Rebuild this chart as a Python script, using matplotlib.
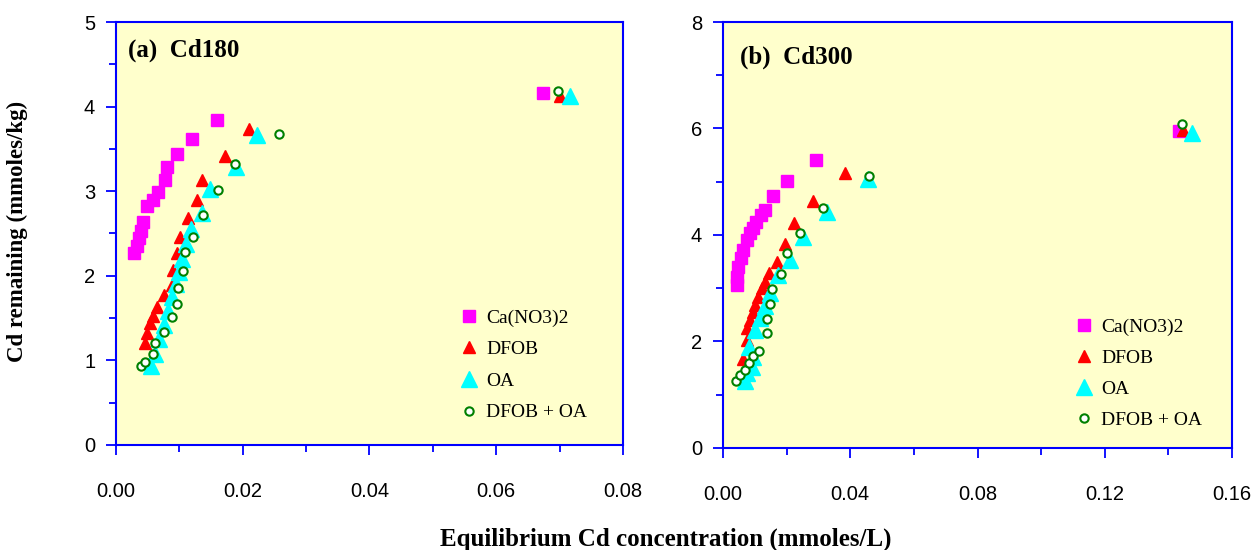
import matplotlib
matplotlib.use("Agg")
import matplotlib.pyplot as plt
from matplotlib import font_manager
from matplotlib.ticker import MultipleLocator, FormatStrFormatter

# ---------------- data ----------------
series_names = ["Ca(NO3)2", "DFOB", "OA", "DFOB + OA"]

# Panel (a) Cd180
a_ca_x = [0.0029, 0.0033, 0.0036, 0.0040, 0.0043, 0.0049, 0.0058, 0.0067, 0.0077, 0.0080, 0.0097, 0.0120, 0.0160, 0.0673]
a_ca_y = [2.27, 2.35, 2.45, 2.53, 2.64, 2.82, 2.90, 2.99, 3.13, 3.29, 3.44, 3.62, 3.84, 4.16]
a_dfob_x = [0.0046, 0.0049, 0.0053, 0.0058, 0.0064, 0.0075, 0.0089, 0.0090, 0.0097, 0.0101, 0.0114, 0.0128, 0.0135, 0.0172, 0.0210, 0.0701]
a_dfob_y = [1.20, 1.32, 1.44, 1.52, 1.63, 1.77, 1.89, 2.07, 2.27, 2.46, 2.68, 2.90, 3.13, 3.41, 3.74, 4.13]
a_oa_x = [0.0055, 0.0062, 0.0068, 0.0076, 0.0082, 0.0088, 0.0094, 0.0100, 0.0104, 0.0110, 0.0118, 0.0135, 0.0148, 0.0190, 0.0222, 0.0717]
a_oa_y = [0.93, 1.08, 1.25, 1.42, 1.58, 1.75, 1.90, 2.05, 2.20, 2.38, 2.55, 2.74, 3.03, 3.29, 3.66, 4.12]
a_mix_x = [0.0039, 0.0046, 0.0059, 0.0062, 0.0075, 0.0088, 0.0096, 0.0098, 0.0105, 0.0109, 0.0122, 0.0138, 0.0161, 0.0188, 0.0257, 0.0698]
a_mix_y = [0.93, 0.98, 1.08, 1.21, 1.34, 1.51, 1.67, 1.86, 2.06, 2.28, 2.46, 2.72, 3.01, 3.32, 3.68, 4.19]

# Panel (b) Cd300
b_ca_x = [0.0043, 0.0045, 0.0048, 0.0056, 0.0064, 0.0074, 0.0085, 0.0095, 0.0104, 0.0118, 0.0132, 0.0156, 0.0200, 0.0292, 0.1434]
b_ca_y = [3.06, 3.22, 3.40, 3.56, 3.72, 3.91, 4.03, 4.13, 4.25, 4.38, 4.47, 4.73, 5.01, 5.41, 5.96]
b_dfob_x = [0.0062, 0.0074, 0.0074, 0.0085, 0.0093, 0.0101, 0.0111, 0.0122, 0.0132, 0.0143, 0.0171, 0.0195, 0.0223, 0.0282, 0.0384, 0.1445]
b_dfob_y = [1.68, 2.03, 2.25, 2.40, 2.56, 2.69, 2.84, 3.00, 3.12, 3.28, 3.50, 3.83, 4.22, 4.64, 5.17, 5.98]
b_oa_x = [0.0069, 0.0074, 0.0090, 0.0095, 0.0080, 0.0101, 0.0116, 0.0132, 0.0148, 0.0174, 0.0211, 0.0252, 0.0326, 0.0457, 0.1473]
b_oa_y = [1.25, 1.40, 1.53, 1.71, 1.90, 2.22, 2.44, 2.66, 2.91, 3.25, 3.53, 3.97, 4.44, 5.05, 5.92]
b_mix_x = [0.0041, 0.0053, 0.0069, 0.0083, 0.0093, 0.0114, 0.0137, 0.0137, 0.0146, 0.0153, 0.0181, 0.0202, 0.0242, 0.0315, 0.0460, 0.1442]
b_mix_y = [1.25, 1.37, 1.46, 1.59, 1.73, 1.83, 2.15, 2.42, 2.70, 2.98, 3.27, 3.66, 4.04, 4.50, 5.11, 6.08]

panel_titles = ["(a)  Cd180", "(b)  Cd300"]
ylabel_text = "Cd remaining (mmoles/kg)"
xlabel_text = "Equilibrium Cd concentration (mmoles/L)"

# ---------------- style ----------------
avail = {f.name for f in font_manager.fontManager.ttflist}
if "Liberation Sans Narrow" in avail:
    tick_family = ["Liberation Sans Narrow", "DejaVu Sans"]
else:
    tick_family = ["Liberation Sans", "DejaVu Sans"]
serif = ["Liberation Serif", "DejaVu Serif"]

BG = "#FFFFCC"
SPINE = "#0000FF"

fig = plt.figure(figsize=(12.54, 5.5), dpi=100)
axA = fig.add_axes([0.0925, 0.191, 0.4043, 0.769])
axB = fig.add_axes([0.5766, 0.1855, 0.4059, 0.7745])

styles = [
    dict(marker="s", color="#FF00FF", ms=8, mec="#FF00FF", ls="none"),
    dict(marker="^", color="#FF0000", ms=8.5, mec="#FF0000", ls="none"),
    dict(marker="^", color="#00FFFF", ms=11, mec="#00FFFF", ls="none"),
    dict(marker="o", mfc="white", mec="#008000", ms=6, mew=1.5, ls="none"),
]

def draw(ax, data, xmax, xmaj, xmin_, ymax, ymaj, ymin_, title, tpos, legpos, lspace):
    ax.set_facecolor(BG)
    for (x, y), st, name in zip(data, styles, series_names):
        ax.plot(x, y, label=name, **st)
    ax.set_xlim(0, xmax)
    ax.set_ylim(0, ymax)
    ax.xaxis.set_major_locator(MultipleLocator(xmaj))
    ax.xaxis.set_minor_locator(MultipleLocator(xmin_))
    ax.yaxis.set_major_locator(MultipleLocator(ymaj))
    ax.yaxis.set_minor_locator(MultipleLocator(ymin_))
    ax.xaxis.set_major_formatter(FormatStrFormatter("%.2f"))
    ax.yaxis.set_major_formatter(FormatStrFormatter("%d"))
    for s in ax.spines.values():
        s.set_color(SPINE)
        s.set_linewidth(1.5)
    ax.tick_params(axis="both", which="both", direction="out", color=SPINE, width=1.3)
    ax.tick_params(axis="both", which="major", length=7)
    ax.tick_params(axis="both", which="minor", length=5)
    ax.tick_params(axis="x", which="major", pad=20)
    ax.tick_params(axis="y", which="major", pad=8)
    for lab in ax.get_xticklabels() + ax.get_yticklabels():
        lab.set_family(tick_family)
        lab.set_fontsize(14.5)
    ax.text(tpos[0], tpos[1], title, transform=ax.transAxes, family=serif,
            fontweight="bold", fontsize=18, va="center", ha="left")
    ax.legend(loc="upper left", bbox_to_anchor=legpos, frameon=False,
              prop=dict(family=serif, size=14), handlelength=0.8,
              handletextpad=0.5, labelspacing=lspace, borderaxespad=0,
              numpoints=1)

draw(axA, [(a_ca_x, a_ca_y), (a_dfob_x, a_dfob_y), (a_oa_x, a_oa_y), (a_mix_x, a_mix_y)],
     0.08, 0.02, 0.01, 5, 1, 0.5, panel_titles[0], (0.024, 0.934), (0.665, 0.34), 0.72)
draw(axB, [(b_ca_x, b_ca_y), (b_dfob_x, b_dfob_y), (b_oa_x, b_oa_y), (b_mix_x, b_mix_y)],
     0.16, 0.04, 0.02, 8, 2, 1, panel_titles[1], (0.033, 0.918), (0.678, 0.322), 0.68)

fig.text(0.014, 0.58, ylabel_text, rotation=90, family=serif, fontweight="bold",
         fontsize=16.5, ha="center", va="center")
fig.text(0.531, 0.02, xlabel_text, family=serif, fontweight="bold",
         fontsize=18, ha="center", va="center")

fig.savefig("out.png", dpi=100, facecolor="white")
